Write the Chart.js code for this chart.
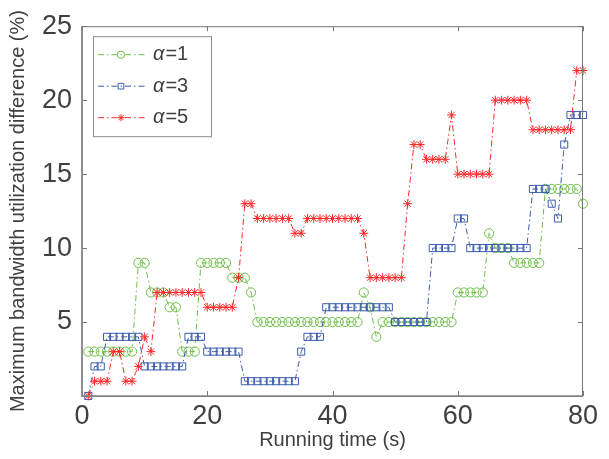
<!DOCTYPE html>
<html lang="en">
<head>
<meta charset="UTF-8">
<title>Maximum bandwidth utilization difference</title>
<script src="https://cdn.jsdelivr.net/npm/chart.js"></script>
<style>
  html, body { margin: 0; padding: 0; background: #fff; }
  #wrap { width: 609px; height: 459px; }
</style>
</head>
<body>
<div id="wrap"><canvas id="bwChart" width="609" height="459"></canvas></div>
<script>
  // running time (s), one sample per second
  const runTime = [1,2,3,4,5,6,7,8,9,10,11,12,13,14,15,16,17,18,19,20,
    21,22,23,24,25,26,27,28,29,30,31,32,33,34,35,36,37,38,39,40,
    41,42,43,44,45,46,47,48,49,50,51,52,53,54,55,56,57,58,59,60,
    61,62,63,64,65,66,67,68,69,70,71,72,73,74,75,76,77,78,79,80];

  // alpha = 1
  const alpha1 = [3,3,3,3,3,3,3,3,9,9, 7,7,7,6,6,3,3,3,9,9,
    9,9,9,8,8,8,7,5,5,5, 5,5,5,5,5,5,5,5,5,5,
    5,5,5,5,7,6,4,5,5,5, 5,5,5,5,5,5,5,5,5,7,
    7,7,7,7,11,10,10,10,9,9, 9,9,9,14,14,14,14,14,14,13];

  // alpha = 3
  const alpha3 = [0,2,2,4,4,4,4,4,4,2, 2,2,2,2,2,2,4,4,4,3,
    3,3,3,3,3,1,1,1,1,1, 1,1,1,1,3,4,4,4,6,6,
    6,6,6,6,6,6,6,6,6,5, 5,5,5,5,5,10,10,10,10,12,
    12,10,10,10,10,10,10,10,10,10, 10,14,14,14,13,12,17,19,19,19];

  // alpha = 5
  const alpha5 = [0,1,1,1,3,3,1,1,2,4, 3,7,7,7,7,7,7,7,7,6,
    6,6,6,6,8,13,13,12,12,12, 12,12,12,11,11,12,12,12,12,12,
    12,12,12,12,11,8,8,8,8,8, 8,13,17,17,16,16,16,16,19,15,
    15,15,15,15,15,20,20,20,20,20, 20,18,18,18,18,18,18,18,22,22];

  const seriesNames = ['α=1', 'α=3', 'α=5'];
  const xTicks = [0, 20, 40, 60, 80];
  const yTicks = [0, 5, 10, 15, 20, 25];

  const FONT = '"Liberation Sans", Arial, Helvetica, sans-serif';
  const TXT = '#404040';
  const DASHDOT = [6, 3, 1.5, 3];

  function pts(values) {
    return values.map((v, i) => ({ x: runTime[i], y: v }));
  }

  // inward ticks and the box around the plot, like the original figure
  const frame = {
    id: 'frame',
    afterDatasetsDraw(chart) {
      const { ctx, chartArea: a, scales: { x, y } } = chart;
      ctx.save();
      ctx.strokeStyle = '#777';
      ctx.lineWidth = 1;
      ctx.beginPath();
      xTicks.forEach(v => {
        const px = Math.round(x.getPixelForValue(v)) + 0.5;
        ctx.moveTo(px, a.bottom); ctx.lineTo(px, a.bottom - 5);
        ctx.moveTo(px, a.top); ctx.lineTo(px, a.top + 5);
      });
      yTicks.forEach(v => {
        const py = Math.round(y.getPixelForValue(v)) + 0.5;
        ctx.moveTo(a.left, py); ctx.lineTo(a.left + 5, py);
        ctx.moveTo(a.right, py); ctx.lineTo(a.right - 5, py);
      });
      ctx.stroke();
      ctx.strokeRect(a.left, a.top + 0.5, a.right - a.left - 0.5, a.bottom - a.top);
      ctx.lineWidth = 1.6;
      ctx.strokeStyle = '#858585';
      ctx.beginPath();
      ctx.moveTo(a.left, a.top); ctx.lineTo(a.left, a.bottom); ctx.lineTo(a.right, a.bottom);
      ctx.stroke();
      ctx.restore();
    }
  };

  function marker(ctx, style, cx, cy, r) {
    ctx.beginPath();
    if (style === 'circle') {
      ctx.arc(cx, cy, r, 0, Math.PI * 2);
    } else if (style === 'rect') {
      const s = r * Math.SQRT1_2;
      ctx.rect(cx - s, cy - s, 2 * s, 2 * s);
    } else {
      for (let k = 0; k < 4; k++) {
        const ang = k * Math.PI / 4;
        ctx.moveTo(cx - r * Math.cos(ang), cy - r * Math.sin(ang));
        ctx.lineTo(cx + r * Math.cos(ang), cy + r * Math.sin(ang));
      }
    }
    ctx.stroke();
  }

  // legend box in the upper-left corner, with dash-dot sample lines
  const legendBox = {
    id: 'legendBox',
    afterDraw(chart) {
      const { ctx, chartArea: a } = chart;
      const x0 = a.left + 11, y0 = a.top + 10, w = 118, h = 100;
      ctx.save();
      ctx.fillStyle = '#fff';
      ctx.fillRect(x0, y0, w, h);
      ctx.strokeStyle = '#8a8a8a';
      ctx.lineWidth = 1;
      ctx.strokeRect(x0 + 0.5, y0 + 0.5, w, h);
      chart.data.datasets.forEach((ds, i) => {
        const cy = y0 + 18.5 + i * 31.5;
        ctx.strokeStyle = ds.borderColor;
        ctx.lineWidth = 1;
        ctx.setLineDash(DASHDOT);
        ctx.beginPath();
        ctx.moveTo(x0 + 5, cy); ctx.lineTo(x0 + 52, cy);
        ctx.stroke();
        ctx.setLineDash([]);
        marker(ctx, ds.pointStyle, x0 + 28, cy, ds.pointRadius * 0.8);
        const label = seriesNames[i];
        ctx.fillStyle = TXT;
        ctx.textBaseline = 'middle';
        ctx.font = 'italic 20px ' + FONT;
        ctx.fillText(label[0], x0 + 60, cy);
        const wa = ctx.measureText(label[0]).width;
        ctx.font = '20px ' + FONT;
        ctx.fillText(label.slice(1), x0 + 60 + wa + 1, cy);
      });
      ctx.restore();
    }
  };

  const ctx = document.getElementById('bwChart').getContext('2d');
  const chart = new Chart(ctx, {
    type: 'line',
    data: {
      datasets: [
        {
          label: seriesNames[0],
          data: pts(alpha1),
          borderColor: '#6fbf4a',
          pointStyle: 'circle',
          pointRadius: 4.6,
          order: 3
        },
        {
          label: seriesNames[1],
          data: pts(alpha3),
          borderColor: '#3d5dad',
          pointStyle: 'rect',
          pointRadius: 5,
          order: 2
        },
        {
          label: seriesNames[2],
          data: pts(alpha5),
          borderColor: '#ff2828',
          pointStyle: 'star',
          pointRadius: 4.4,
          order: 1
        }
      ].map(ds => Object.assign(ds, {
        borderWidth: 1,
        borderDash: DASHDOT,
        pointBorderWidth: 1,
        pointBorderColor: ds.borderColor,
        pointBackgroundColor: 'rgba(0,0,0,0)',
        tension: 0,
        fill: false,
        clip: false
      }))
    },
    options: {
      responsive: false,
      animation: false,
      layout: { padding: { top: 22, right: 26, left: 0, bottom: 0 } },
      scales: {
        x: {
          type: 'linear',
          min: 0,
          max: 80,
          afterBuildTicks: s => { s.ticks = xTicks.map(v => ({ value: v })); },
          afterFit: s => { s.height = 63; },
          grid: { display: false, drawTicks: false },
          border: { display: false },
          ticks: { color: TXT, font: { family: FONT, size: 27 }, padding: 4, maxRotation: 0 },
          title: {
            display: true,
            text: 'Running time (s)',
            color: TXT,
            font: { family: FONT, size: 20 },
            padding: { top: 0, bottom: 7 }
          }
        },
        y: {
          min: 0,
          max: 25,
          afterBuildTicks: s => { s.ticks = yTicks.map(v => ({ value: v })); },
          afterFit: s => { s.width = 82; },
          grid: { display: false, drawTicks: false },
          border: { display: false },
          ticks: {
            color: TXT,
            font: { family: FONT, size: 27 },
            padding: 10,
            callback: v => (v === 0 ? '' : v)
          },
          title: {
            display: true,
            text: 'Maximum bandwidth utilization difference (%)',
            color: TXT,
            font: { family: FONT, size: 20 },
            padding: { top: 6, bottom: 0 }
          }
        }
      },
      plugins: {
        legend: { display: false },
        tooltip: { enabled: false }
      }
    },
    plugins: [frame, legendBox]
  });
</script>
</body>
</html>
